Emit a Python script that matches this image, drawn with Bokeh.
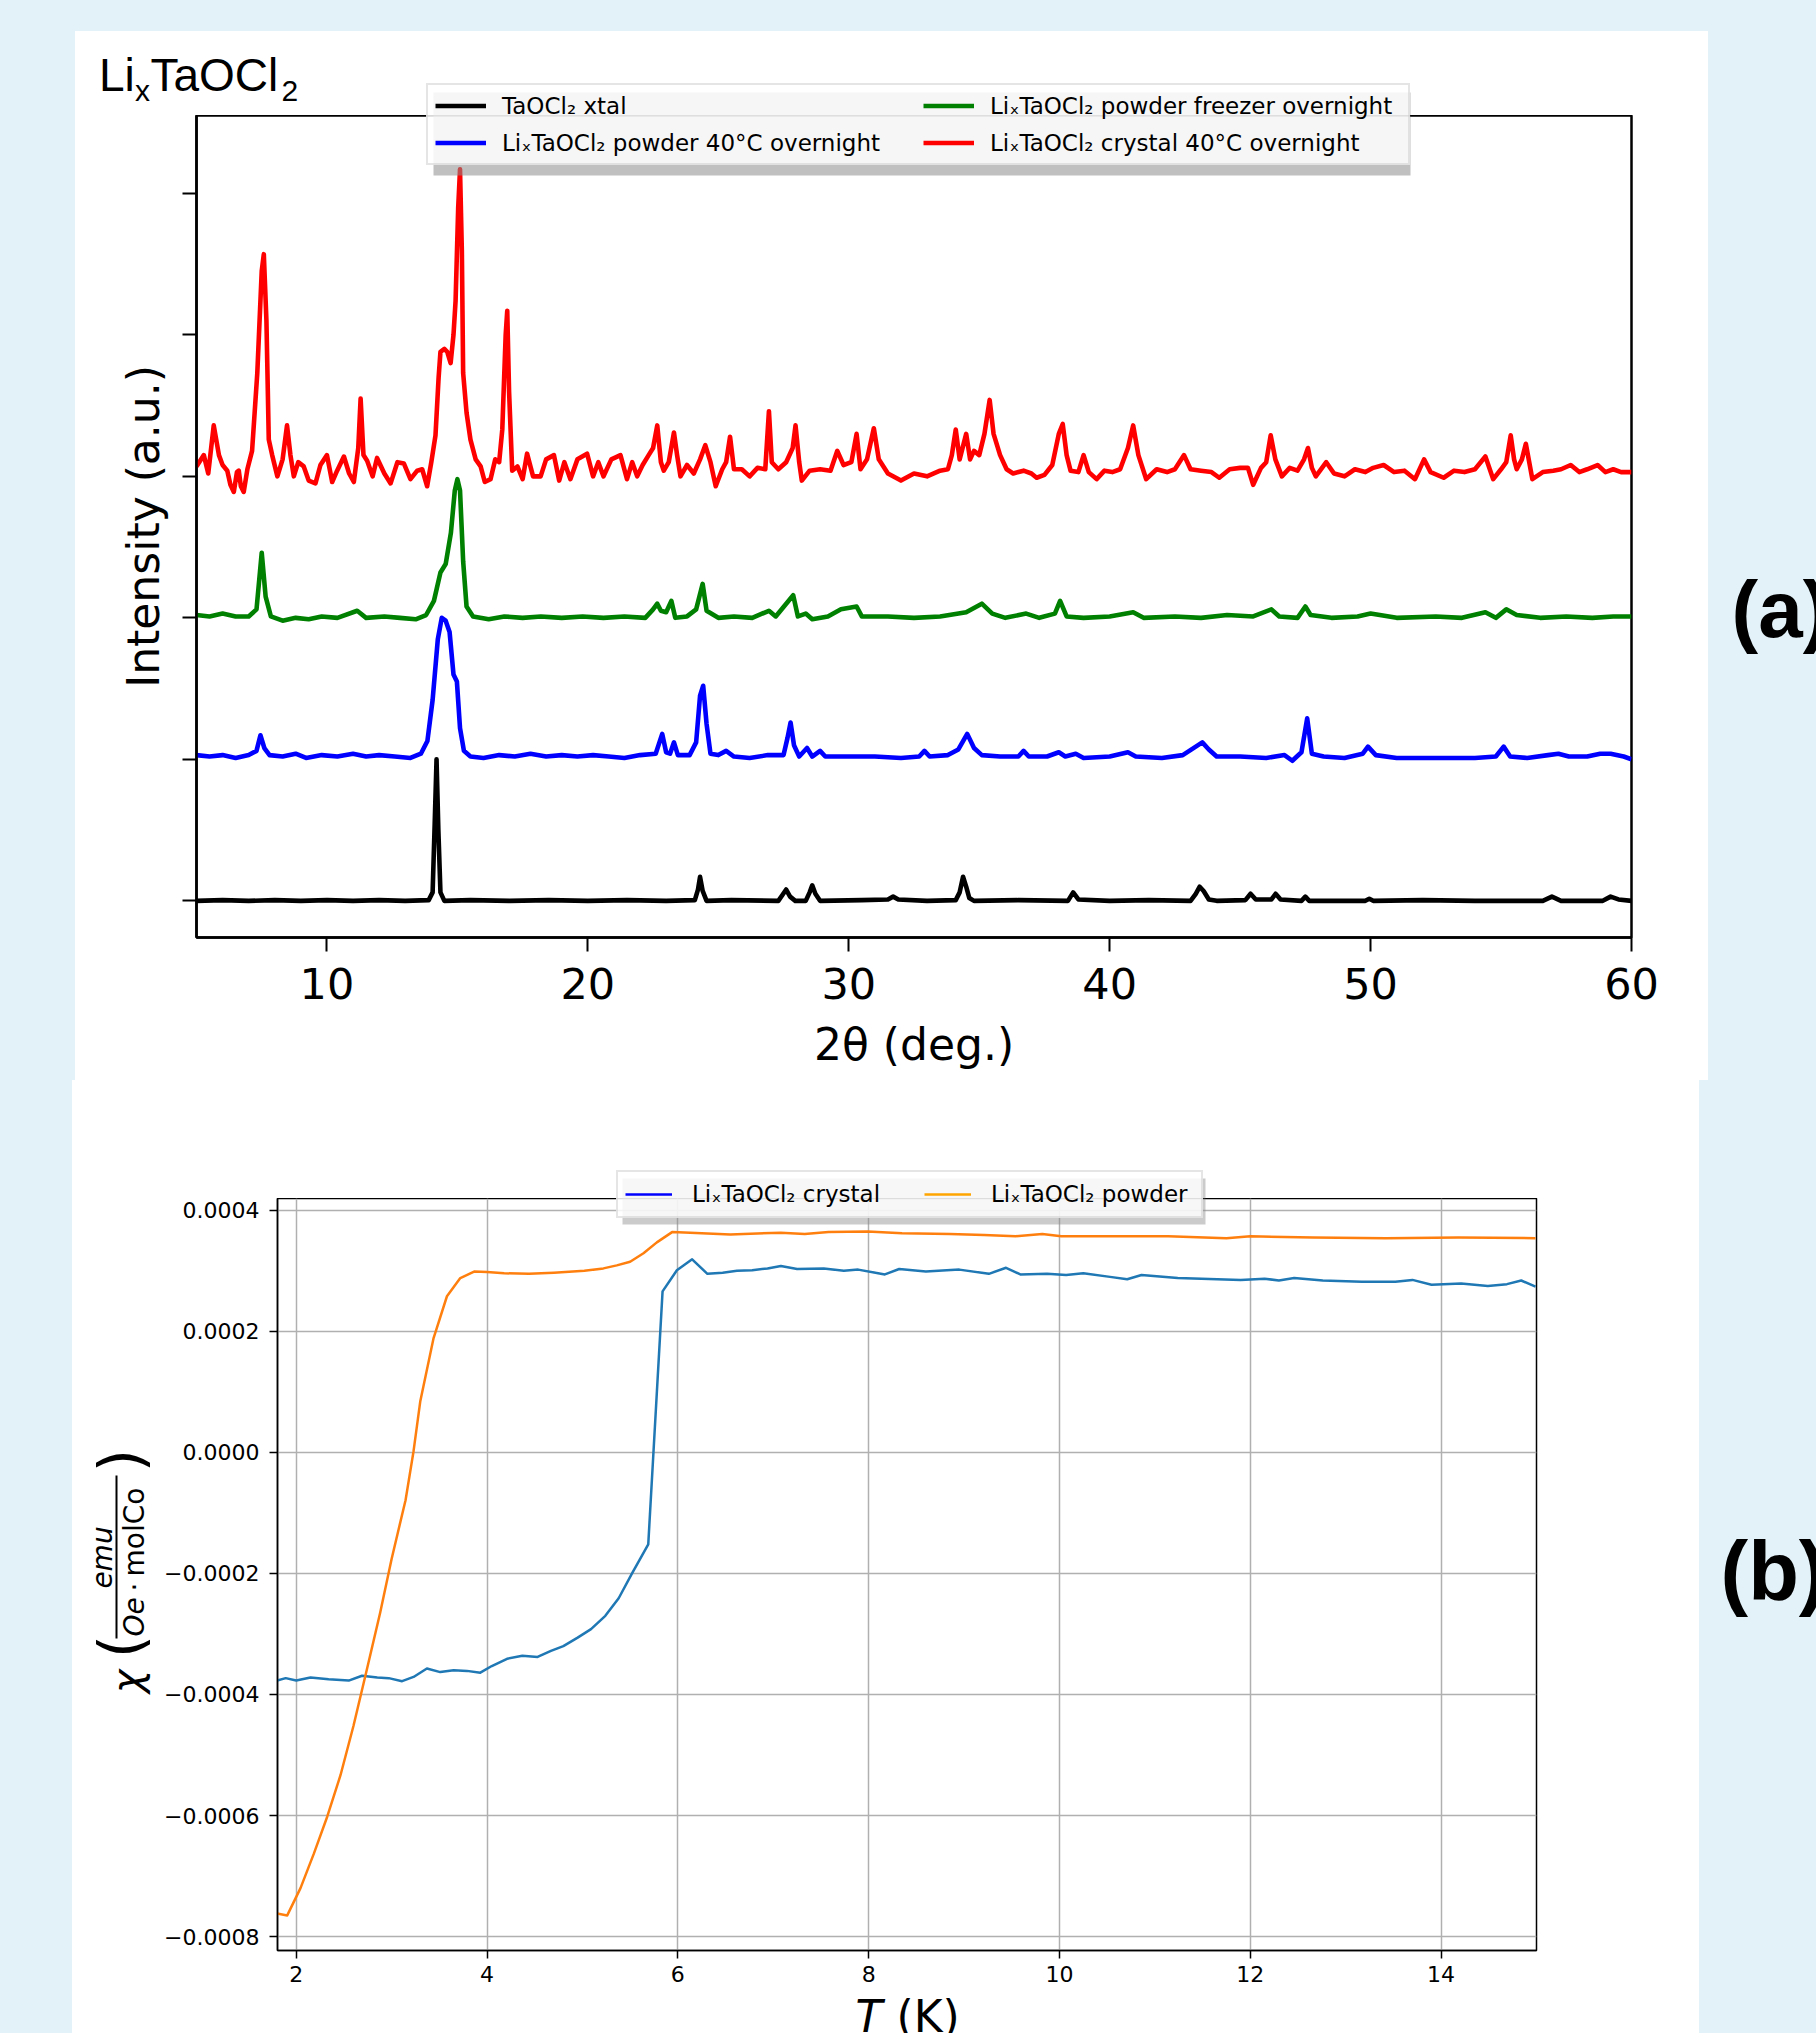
from math import pi
from bokeh.plotting import figure
from bokeh.models import (Range1d, FixedTicker, Label, Legend, LegendItem, BoxAnnotation,
                          Spacer, CustomJSTickFormatter)
from bokeh.layouts import column, row
from bokeh.embed import file_html
from bokeh.resources import INLINE

BG = "#e3f2f8"
NAN = float("nan")

# ---------------------------------------------------------------- data (a): XRD
xrd_offsets = [0.0, 1.0, 2.0, 3.0]
xrd_labels = ["TaOCl\u2082 xtal",
              "Li\u2093TaOCl\u2082 powder 40\u00b0C overnight",
              "Li\u2093TaOCl\u2082 powder freezer overnight",
              "Li\u2093TaOCl\u2082 crystal 40\u00b0C overnight"]
xrd_colors = ["black", "#0000ff", "#008000", "#ff0000"]
xrd_ticks_x = [10, 20, 30, 40, 50, 60]
xrd_ticks_y = [0, 1, 2, 3, 4, 5]

black_tt = [5.0, 6.0, 7.0, 8.0, 9.0, 10.0, 11.0, 12.0, 13.0, 13.9, 14.05, 14.13, 14.2, 14.27, 14.35,
            14.5, 15.5, 17.0, 18.5, 20.0, 21.5, 23.0, 24.1, 24.22, 24.3, 24.4, 24.55, 25.5, 27.3,
            27.45, 27.6, 27.75, 27.95, 28.35, 28.5, 28.6, 28.72, 28.9, 30.5, 31.5, 31.7, 31.9, 33.0,
            34.1, 34.25, 34.38, 34.5, 34.62, 34.8, 36.5, 38.4, 38.6, 38.8, 40.0, 41.5, 43.1, 43.3,
            43.45, 43.6, 43.8, 44.1, 45.2, 45.4, 45.6, 46.2, 46.36, 46.55, 47.35, 47.5, 47.65, 49.8,
            49.95, 50.1, 52.0, 54.0, 56.6, 56.95, 57.3, 58.9, 59.2, 59.5, 60.0]
black_i = [0.0, 0.005, 0.0, 0.005, 0.0, 0.005, 0.0, 0.005, 0.0, 0.005, 0.06, 0.55, 1.0, 0.5, 0.06,
           0.0, 0.005, 0.0, 0.005, 0.0, 0.005, 0.0, 0.005, 0.08, 0.17, 0.07, 0.0, 0.005, 0.0,
           0.04, 0.08, 0.03, 0.0, 0.0, 0.06, 0.11, 0.05, 0.0, 0.005, 0.01, 0.03, 0.01, 0.0,
           0.005, 0.06, 0.17, 0.1, 0.02, 0.0, 0.005, 0.0, 0.06, 0.01, 0.0, 0.005, 0.0, 0.05,
           0.1, 0.07, 0.01, 0.0, 0.005, 0.05, 0.01, 0.01, 0.05, 0.01, 0.0, 0.03, 0.0, 0.0,
           0.015, 0.0, 0.005, 0.0, 0.0, 0.03, 0.0, 0.0, 0.03, 0.01, 0.0]

blue_tt = [5.0, 5.5, 6.0, 6.5, 7.0, 7.3, 7.45, 7.6, 7.8, 8.3, 8.8, 9.2, 9.8, 10.4, 11.0, 11.5, 12.0,
           12.6, 13.2, 13.6, 13.85, 14.05, 14.25, 14.4, 14.55, 14.7, 14.85, 14.98, 15.1, 15.25, 15.5,
           16.0, 16.6, 17.2, 17.8, 18.4, 19.0, 19.6, 20.2, 20.8, 21.4, 22.0, 22.6, 22.85, 23.0, 23.15,
           23.3, 23.45, 23.9, 24.15, 24.3, 24.42, 24.55, 24.7, 25.0, 25.3, 25.6, 26.2, 26.9, 27.5,
           27.65, 27.77, 27.9, 28.1, 28.4, 28.6, 28.9, 29.1, 30.0, 31.0, 32.0, 32.7, 32.9, 33.1, 33.8,
           34.2, 34.54, 34.8, 35.1, 35.8, 36.5, 36.7, 36.9, 37.6, 38.05, 38.3, 38.7, 39.0, 40.0, 40.7,
           41.0, 42.0, 42.8, 43.3, 43.55, 43.8, 44.1, 45.0, 46.0, 46.7, 47.0, 47.35, 47.57, 47.75,
           48.2, 49.0, 49.7, 49.9, 50.2, 51.0, 52.0, 53.0, 54.0, 54.8, 55.1, 55.35, 56.0, 56.8, 57.2,
           57.6, 58.3, 58.8, 59.2, 59.7, 60.0]
blue_i = [0.03, 0.02, 0.03, 0.01, 0.03, 0.06, 0.17, 0.08, 0.03, 0.02, 0.04, 0.01, 0.03, 0.02, 0.04,
          0.02, 0.03, 0.02, 0.01, 0.04, 0.13, 0.42, 0.85, 1.0, 0.98, 0.9, 0.6, 0.55, 0.22, 0.06, 0.02,
          0.01, 0.03, 0.02, 0.04, 0.02, 0.03, 0.02, 0.03, 0.02, 0.01, 0.03, 0.04, 0.18, 0.05, 0.04,
          0.12, 0.03, 0.03, 0.12, 0.45, 0.52, 0.25, 0.04, 0.03, 0.06, 0.02, 0.01, 0.03, 0.03,
          0.15, 0.26, 0.1, 0.02, 0.08, 0.02, 0.06, 0.02, 0.02, 0.02, 0.01, 0.02, 0.06, 0.02, 0.03,
          0.07, 0.18, 0.08, 0.03, 0.02, 0.02, 0.06, 0.02, 0.02, 0.05, 0.02, 0.04, 0.01, 0.02, 0.05,
          0.02, 0.01, 0.03, 0.09, 0.12, 0.07, 0.02, 0.02, 0.01, 0.03, -0.01, 0.05, 0.29, 0.04,
          0.02, 0.01, 0.04, 0.09, 0.03, 0.01, 0.01, 0.01, 0.01, 0.02, 0.09, 0.02, 0.01, 0.03, 0.04,
          0.02, 0.02, 0.04, 0.04, 0.02, 0.0]

green_tt = [5.0, 5.5, 6.0, 6.5, 7.0, 7.3, 7.5, 7.65, 7.85, 8.3, 8.8, 9.3, 9.8, 10.4, 11.16, 11.5,
            12.2, 12.8, 13.4, 13.8, 14.1, 14.35, 14.55, 14.75, 14.9, 15.0, 15.1, 15.22, 15.35, 15.6,
            16.2, 16.8, 17.5, 18.2, 19.0, 19.8, 20.6, 21.4, 22.2, 22.5, 22.66, 22.8, 23.0, 23.2,
            23.35, 23.8, 24.15, 24.4, 24.55, 25.0, 25.6, 26.3, 26.94, 27.2, 27.87, 28.05, 28.35,
            28.6, 29.2, 29.7, 30.3, 30.5, 31.5, 32.5, 33.5, 34.5, 35.1, 35.5, 36.0, 36.8, 37.3, 37.9,
            38.1, 38.35, 39.0, 40.0, 40.9, 41.3, 42.5, 43.5, 44.5, 45.5, 46.2, 46.5, 47.2, 47.5, 47.7,
            48.5, 49.5, 50.0, 51.0, 52.5, 53.5, 54.4, 54.8, 55.2, 55.6, 56.5, 57.5, 58.5, 59.3, 60.0]
green_i = [0.02, 0.01, 0.03, 0.01, 0.01, 0.06, 0.46, 0.15, 0.01, -0.02, 0.0, -0.01, 0.01, 0.0, 0.05,
           0.0, 0.01, 0.0, -0.01, 0.02, 0.12, 0.32, 0.38, 0.6, 0.9, 0.98, 0.9, 0.4, 0.08, 0.01,
           -0.01, 0.01, 0.0, 0.01, 0.0, 0.01, 0.0, 0.01, 0.0, 0.06, 0.1, 0.05, 0.04, 0.12,
           0.0, 0.01, 0.06, 0.24, 0.05, 0.0, 0.01, 0.0, 0.05, 0.01, 0.16, 0.01, 0.03,
           -0.01, 0.01, 0.06, 0.08, 0.01, 0.01, 0.0, 0.01, 0.04, 0.1, 0.03, 0.0, 0.03, 0.0, 0.03,
           0.12, 0.01, 0.0, 0.01, 0.04, 0.0, 0.01, 0.0, 0.02, 0.01, 0.06, 0.01, 0.0, 0.08, 0.02,
           0.0, 0.01, 0.03, 0.0, 0.01, 0.0, 0.04, 0.0, 0.06, 0.02, 0.0, 0.01, 0.0, 0.01, 0.01]

red_tt = [5.0, 5.28, 5.45, 5.66, 5.86, 6.0, 6.18, 6.3, 6.43, 6.55, 6.62, 6.7, 6.81, 6.95, 7.13, 7.33,
          7.5, 7.58, 7.68, 7.77, 7.9, 8.1, 8.3, 8.47, 8.6, 8.73, 8.9, 9.11, 9.3, 9.56, 9.75, 10.0,
          10.2, 10.39, 10.65, 10.85, 11.03, 11.2, 11.29, 11.4, 11.54, 11.75, 11.92, 12.2, 12.44,
          12.7, 12.95, 13.2, 13.46, 13.65, 13.84, 14.0, 14.16, 14.28, 14.35, 14.5, 14.61, 14.74,
          14.85, 14.93, 15.03, 15.1, 15.17, 15.22, 15.35, 15.5, 15.7, 15.89, 16.05, 16.27, 16.45,
          16.6, 16.72, 16.85, 16.91, 16.98, 17.1, 17.3, 17.5, 17.67, 17.9, 18.19, 18.4, 18.7, 18.9,
          19.1, 19.33, 19.6, 19.97, 20.2, 20.4, 20.6, 20.9, 21.25, 21.5, 21.7, 21.89, 22.1, 22.33,
          22.5, 22.66, 22.8, 22.91, 23.1, 23.3, 23.42, 23.55, 23.8, 24.06, 24.3, 24.5, 24.7, 24.9,
          25.15, 25.3, 25.45, 25.6, 25.9, 26.2, 26.5, 26.8, 26.94, 27.05, 27.3, 27.6, 27.85, 27.96,
          28.1, 28.2, 28.5, 28.9, 29.3, 29.56, 29.8, 30.1, 30.3, 30.45, 30.7, 30.96, 31.15, 31.5,
          32.0, 32.5, 33.0, 33.5, 33.8, 33.95, 34.1, 34.25, 34.5, 34.65, 34.8, 35.0, 35.2, 35.4,
          35.55, 35.8, 36.05, 36.3, 36.7, 37.0, 37.2, 37.5, 37.8, 38.05, 38.2, 38.35, 38.5, 38.8,
          39.0, 39.2, 39.5, 39.8, 40.1, 40.4, 40.7, 40.9, 41.1, 41.4, 41.8, 42.2, 42.5, 42.85, 43.1,
          43.5, 43.9, 44.2, 44.6, 45.0, 45.3, 45.5, 45.8, 46.0, 46.17, 46.35, 46.6, 46.9, 47.2,
          47.45, 47.6, 47.75, 47.9, 48.3, 48.6, 49.0, 49.4, 49.8, 50.1, 50.5, 50.9, 51.3, 51.7,
          52.05, 52.3, 52.8, 53.2, 53.6, 54.0, 54.4, 54.7, 55.0, 55.2, 55.37, 55.5, 55.6, 55.8,
          55.95, 56.2, 56.6, 57.0, 57.3, 57.67, 58.0, 58.3, 58.7, 59.0, 59.3, 59.6, 60.0]
red_i = [0.07, 0.15, 0.02, 0.36, 0.15, 0.08, 0.04, -0.06, -0.11, 0.03, 0.04, -0.07, -0.11, 0.05, 0.18,
         0.73, 1.45, 1.57, 1.1, 0.26, 0.15, 0.0, 0.12, 0.36, 0.15, 0.0, 0.1, 0.07, -0.03, -0.05,
         0.08, 0.15, -0.04, 0.04, 0.14, 0.02, -0.04, 0.2, 0.55, 0.15, 0.11, 0.0, 0.13, 0.02, -0.05,
         0.1, 0.09, -0.02, 0.04, 0.05, -0.07, 0.1, 0.29, 0.7, 0.88, 0.9, 0.88, 0.8,
         1.0, 1.24, 1.9, 2.17, 1.6, 0.73, 0.45, 0.26, 0.12, 0.07, -0.04, -0.02, 0.12,
         0.1, 0.33, 1.0, 1.17, 0.6, 0.04, 0.07, -0.02, 0.16, 0.0, 0.0, 0.12, 0.15, -0.03,
         0.1, -0.02, 0.12, 0.16, 0.0, 0.1, 0.0, 0.12, 0.15, -0.02, 0.1, 0.0, 0.08, 0.15,
         0.2, 0.36, 0.1, 0.04, 0.1, 0.31, 0.15, 0.0, 0.08, 0.02, 0.12, 0.22, 0.1, -0.07,
         0.05, 0.1, 0.28, 0.05, 0.05, 0.0, 0.06, 0.05, 0.46, 0.1, 0.05, 0.1, 0.2, 0.36,
         0.1, -0.03, 0.04, 0.05, 0.04, 0.18, 0.08, 0.1, 0.3, 0.05, 0.12, 0.34, 0.12, 0.02,
         -0.03, 0.02, 0.0, 0.04, 0.05, 0.15, 0.33, 0.12, 0.3, 0.12, 0.18, 0.15, 0.3, 0.54,
         0.3, 0.15, 0.05, 0.02, 0.04, 0.02, -0.01, 0.01, 0.08, 0.3, 0.37, 0.15, 0.04, 0.03,
         0.15, 0.03, -0.02, 0.04, 0.03, 0.05, 0.2, 0.36, 0.15, -0.02, 0.05, 0.03, 0.05, 0.15, 0.05,
         0.04, 0.03, -0.01, 0.05, 0.06, 0.06, -0.06, 0.06, 0.1, 0.29, 0.12, 0.0, 0.06, 0.04,
         0.12, 0.2, 0.06, 0.0, 0.1, 0.02, 0.0, 0.05, 0.03, 0.06, 0.08, 0.03, 0.04, -0.02,
         0.12, 0.03, -0.01, 0.04, 0.03, 0.05, 0.14, -0.02, 0.05, 0.1, 0.29, 0.12, 0.05, 0.12,
         0.23, -0.02, 0.03, 0.04, 0.05, 0.08, 0.03, 0.05, 0.08, 0.03, 0.05, 0.03, 0.03]

# ---------------------------------------------------------------- data (b): susceptibility
sus_ticks_x = [2, 4, 6, 8, 10, 12, 14]
sus_ticks_y = [-0.0008, -0.0006, -0.0004, -0.0002, 0.0, 0.0002, 0.0004]
sus_labels = ["Li\u2093TaOCl\u2082 crystal", "Li\u2093TaOCl\u2082 powder"]

crystal_T = [1.80, 1.89, 2.0, 2.15, 2.34, 2.55, 2.69, 2.85, 2.97, 3.11, 3.23, 3.37, 3.51, 3.65, 3.79,
             3.93, 4.05, 4.21, 4.37, 4.53, 4.67, 4.8, 4.95, 5.09, 5.24, 5.38, 5.52, 5.69, 5.84, 5.99,
             6.15, 6.31, 6.47, 6.62, 6.78, 6.94, 7.08, 7.25, 7.53, 7.74, 7.89, 8.17, 8.32, 8.6, 8.95,
             9.26, 9.44, 9.59, 9.87, 10.07, 10.25, 10.53, 10.71, 10.86, 11.24, 11.9, 12.15, 12.3,
             12.46, 12.76, 13.17, 13.52, 13.7, 13.9, 14.21, 14.49, 14.69, 14.84, 14.99]
crystal_chi = [-3.77e-4, -3.73e-4, -3.77e-4, -3.72e-4, -3.75e-4, -3.77e-4, -3.69e-4, -3.72e-4,
               -3.73e-4, -3.78e-4, -3.71e-4, -3.57e-4, -3.63e-4, -3.60e-4, -3.61e-4, -3.64e-4,
               -3.53e-4, -3.41e-4, -3.36e-4, -3.38e-4, -3.28e-4, -3.20e-4, -3.06e-4, -2.92e-4,
               -2.70e-4, -2.41e-4, -2.00e-4, -1.52e-4, 2.66e-4, 3.01e-4, 3.19e-4, 2.95e-4, 2.97e-4,
               3.00e-4, 3.01e-4, 3.04e-4, 3.08e-4, 3.03e-4, 3.04e-4, 3.00e-4, 3.02e-4, 2.94e-4,
               3.03e-4, 2.99e-4, 3.02e-4, 2.95e-4, 3.05e-4, 2.94e-4, 2.95e-4, 2.93e-4, 2.96e-4,
               2.90e-4, 2.86e-4, 2.93e-4, 2.88e-4, 2.85e-4, 2.87e-4, 2.84e-4, 2.88e-4, 2.84e-4,
               2.82e-4, 2.82e-4, 2.85e-4, 2.77e-4, 2.79e-4, 2.75e-4, 2.78e-4, 2.84e-4, 2.74e-4]

powder_T = [1.80, 1.906, 2.045, 2.185, 2.325, 2.465, 2.6, 2.74, 2.88, 3.0, 3.146, 3.23, 3.3, 3.44,
            3.58, 3.72, 3.87, 4.0, 4.18, 4.44, 4.7, 5.02, 5.22, 5.36, 5.5, 5.64, 5.78, 5.94, 6.13,
            6.55, 7.08, 7.33, 7.58, 7.99, 8.35, 8.85, 9.21, 9.54, 9.82, 10.02, 10.63, 11.14, 11.75,
            12.0, 12.66, 13.42, 14.18, 14.99]
powder_chi = [-7.62e-4, -7.65e-4, -7.20e-4, -6.63e-4, -6.02e-4, -5.33e-4, -4.52e-4, -3.59e-4,
              -2.65e-4, -1.76e-4, -0.79e-4, 0.02e-4, 0.84e-4, 1.89e-4, 2.58e-4, 2.88e-4, 2.99e-4,
              2.98e-4, 2.96e-4, 2.95e-4, 2.97e-4, 3.00e-4, 3.04e-4, 3.09e-4, 3.15e-4, 3.29e-4,
              3.47e-4, 3.64e-4, 3.63e-4, 3.60e-4, 3.63e-4, 3.61e-4, 3.64e-4, 3.65e-4, 3.62e-4,
              3.61e-4, 3.59e-4, 3.57e-4, 3.61e-4, 3.57e-4, 3.57e-4, 3.57e-4, 3.54e-4, 3.57e-4,
              3.55e-4, 3.54e-4, 3.55e-4, 3.54e-4]


# ---------------------------------------------------------------- helpers
def no_align(f):
    try:
        f.frame_align = False
    except Exception:
        pass
    return f


def aux(w, h, bg):
    """Blank figure whose frame is its whole canvas; data units == pixels (y up)."""
    f = figure(width=w, height=h, title=None, output_backend="svg", toolbar_location=None,
               x_axis_location=None, y_axis_location=None, min_border=0,
               x_range=Range1d(0, w), y_range=Range1d(0, h))
    f.grid.visible = False
    f.outline_line_color = None
    f.border_fill_color = bg
    f.background_fill_color = bg
    return no_align(f)


def txt(fig, x, y, text, size, font="DejaVu Sans", style="normal", align="left",
        baseline="middle", angle=0.0, color="black"):
    fig.add_layout(Label(x=x, y=y, text=text, text_font=font, text_font_size=f"{size}px",
                         text_font_style=style, text_align=align, text_baseline=baseline,
                         angle=angle, text_color=color))


def txt_base(fig, x, y_base, text, size, **kw):
    """Place horizontal text whose alphabetic baseline is at y_base (y up)."""
    txt(fig, x, y_base + 0.33 * size, text, size, baseline="middle", **kw)


def make_legend(items, **kw):
    return Legend(items=items, label_text_font="DejaVu Sans", label_text_font_size="23px",
                  label_text_color="black", margin=0, border_line_color="#cccccc",
                  border_line_width=2, background_fill_color="white",
                  background_fill_alpha=0.85, **kw)


def shadow(fig, l, r, b, t, alpha, screen):
    kw = dict(left_units="screen", right_units="screen", bottom_units="screen",
              top_units="screen") if screen else {}
    fig.add_layout(BoxAnnotation(left=l, right=r, bottom=b, top=t, fill_color="#8c8c8c",
                                 fill_alpha=alpha, line_color=None, **kw))


# ================================================================ panel (a)
# page geometry: white panel x 75..1708, y 31..1080 ; frame x 196..1631, y 115..937
strip_a = aux(1633, 84, "white")                      # page y 31..115
fa = no_align(figure(width=1633, height=965, title=None, output_backend="svg",
                     toolbar_location=None, x_range=Range1d(5, 60), y_range=Range1d(-0.259, 5.55),
                     min_border_left=121, min_border_right=77, min_border_top=0,
                     min_border_bottom=143))
fa.border_fill_color = "white"
fa.background_fill_color = "white"
fa.outline_line_color = "black"
fa.outline_line_width = 2.5
fa.grid.visible = False
fa.xaxis.ticker = FixedTicker(ticks=xrd_ticks_x)
fa.yaxis.ticker = FixedTicker(ticks=xrd_ticks_y)
for ax in (fa.xaxis[0], fa.yaxis[0]):
    ax.major_tick_out = 14
    ax.major_tick_in = 0
    ax.minor_tick_out = 0
    ax.minor_tick_in = 0
    ax.major_tick_line_width = 2
    ax.axis_line_width = 2.5
    ax.major_label_text_font = "DejaVu Sans"
    ax.major_label_text_color = "black"
    ax.axis_label_text_font = "DejaVu Sans"
    ax.axis_label_text_font_size = "44px"
    ax.axis_label_text_font_style = "normal"
    ax.axis_label_text_color = "black"
fa.xaxis.major_label_text_font_size = "43px"
fa.xaxis.major_label_standoff = 16
fa.yaxis.major_label_overrides = {t: "" for t in xrd_ticks_y}
fa.yaxis.major_label_standoff = 0
fa.xaxis.axis_label = "2\u03b8 (deg.)"
fa.xaxis.axis_label_standoff = 17
fa.yaxis.axis_label = "Intensity (a.u.)"
fa.yaxis.axis_label_standoff = 14

series = [(black_tt, black_i), (blue_tt, blue_i), (green_tt, green_i), (red_tt, red_i)]
rends = []
for (tt, ii), off, col in zip(series, xrd_offsets, xrd_colors):
    rends.append(fa.line(tt, [v + off for v in ii], line_color=col, line_width=4.6,
                         line_join="round"))

# legend: drawn in the frame and, for the part above the frame, again in the strip
leg_kw_a = dict(ncols=2, glyph_width=51, glyph_height=27, label_height=27, label_width=411,
                label_standoff=16, spacing=10, padding=7)
shadow(fa, 237, 1214, 762, 845, 0.55, True)
fa.add_layout(make_legend([LegendItem(label=l, renderers=[r]) for l, r in zip(xrd_labels, rends)],
                          location=(230, 772), **leg_kw_a))
proxies_a = [strip_a.line([NAN, NAN], [NAN, NAN], line_color=c, line_width=4.6) for c in xrd_colors]
shadow(strip_a, 358, 1335, -60, 23, 0.55, False)
strip_a.add_layout(make_legend([LegendItem(label=l, renderers=[r])
                                for l, r in zip(xrd_labels, proxies_a)],
                               location=(351, -50), **leg_kw_a))
# title  Li_x TaOCl_2  (page baseline 89.3 -> strip y 25.7 ; subscripts baseline page 100)
txt_base(strip_a, 23.5, 25.7, "Li", 46, font="Liberation Sans")
txt_base(strip_a, 59.5, 15, "x", 30, font="Liberation Sans")
txt_base(strip_a, 75, 25.7, "TaOCl", 46, font="Liberation Sans")
txt_base(strip_a, 206, 15, "2", 30, font="Liberation Sans")

la = aux(108, 1049, BG)                                 # page x 1708..1816, y 31..1080
txt_base(la, 23, 445, "(a)", 80, font="Liberation Sans", style="bold")

# ================================================================ panel (b)
# page geometry: white panel x 72..1699, y 1080..2033 ; frame x 277..1536, y 1198..1950
strip_b = aux(1627, 118, "white")                     # page y 1080..1198
ylab_b = aux(88, 794, "white")                        # page x 72..160, y 1198..1992
xlab_b = aux(1627, 41, "white")                       # page y 1992..2033
fb = no_align(figure(width=1539, height=794, title=None, output_backend="svg",
                     toolbar_location=None, x_range=Range1d(1.804, 15.0),
                     y_range=Range1d(-0.000823, 0.0004195),
                     min_border_left=117, min_border_right=163, min_border_top=0,
                     min_border_bottom=42))
fb.border_fill_color = "white"
fb.background_fill_color = "white"
fb.outline_line_color = "black"
fb.outline_line_width = 1.5
fb.xaxis.ticker = FixedTicker(ticks=sus_ticks_x)
fb.yaxis.ticker = FixedTicker(ticks=sus_ticks_y)
fb.xgrid.ticker = FixedTicker(ticks=sus_ticks_x)
fb.ygrid.ticker = FixedTicker(ticks=sus_ticks_y)
fb.grid.grid_line_color = "#b0b0b0"
fb.grid.grid_line_width = 1.5
fb.yaxis.formatter = CustomJSTickFormatter(
    code="return (tick < -1e-12 ? '\\u2212' : '') + Math.abs(tick).toFixed(4);")
for ax in (fb.xaxis[0], fb.yaxis[0]):
    ax.major_tick_out = 8
    ax.major_tick_in = 0
    ax.minor_tick_out = 0
    ax.minor_tick_in = 0
    ax.major_tick_line_width = 1.5
    ax.axis_line_width = 1.5
    ax.major_label_text_font = "DejaVu Sans"
    ax.major_label_text_font_size = "22px"
    ax.major_label_text_color = "black"
fb.yaxis.major_label_standoff = 10
fb.xaxis.major_label_standoff = 7

fb.line(crystal_T, crystal_chi, line_color="#1f77b4", line_width=2.5, line_join="round")
fb.line(powder_T, powder_chi, line_color="#ff7f0e", line_width=2.5, line_join="round")
sus_legend_colors = ["#0000ff", "#ffa500"]
proxies_b = [fb.line([NAN, NAN], [NAN, NAN], line_color=c, line_width=2.5) for c in sus_legend_colors]
proxies_bs = [strip_b.line([NAN, NAN], [NAN, NAN], line_color=c, line_width=2.5)
              for c in sus_legend_colors]

leg_kw_b = dict(orientation="horizontal", glyph_width=47, glyph_height=30, label_height=30,
                label_width=203, label_standoff=20, spacing=29, padding=7)
shadow(fb, 345, 928, 726, 772, 0.45, True)
fb.add_layout(make_legend([LegendItem(label=l, renderers=[r]) for l, r in zip(sus_labels, proxies_b)],
                          location=(339, 732), **leg_kw_b))
shadow(strip_b, 550, 1133, -26, 20, 0.45, False)
strip_b.add_layout(make_legend([LegendItem(label=l, renderers=[r])
                                for l, r in zip(sus_labels, proxies_bs)],
                               location=(544, -20), **leg_kw_b))

# y label: chi ( emu / Oe . molCo )   (ylab_b: x = page-72, y = 1992-page)
txt(ylab_b, 54, 311, "\u03c7", 40, style="italic", align="center", angle=pi / 2)
txt(ylab_b, 48, 346, "(", 60, align="center", angle=pi / 2)
txt(ylab_b, 30, 435, "emu", 28, style="italic", align="center", angle=pi / 2)
ylab_b.add_layout(BoxAnnotation(left=43, right=45, bottom=354, top=517,
                                fill_color="black", fill_alpha=1.0, line_color=None))
txt(ylab_b, 62, 356, "Oe", 28, style="italic", align="left", angle=pi / 2)
txt(ylab_b, 62, 401, "\u00b7", 28, align="left", angle=pi / 2)
txt(ylab_b, 62, 416, "molCo", 28, align="left", angle=pi / 2)
txt(ylab_b, 48, 532, ")", 60, align="center", angle=pi / 2)
# x label  T (K)  (xlab_b: x = page-72, y = 2033-page ; baseline page 2031)
txt_base(xlab_b, 783, 2, "T", 44, style="italic")
txt_base(xlab_b, 824, 2, "(K)", 44)

lb = aux(117, 953, BG)                                  # page x 1699..1816, y 1080..2033
txt_base(lb, 21, 435, "(b)", 83, font="Liberation Sans", style="bold")

col_a = column(strip_a, fa, styles={"background-color": "white"})
col_b = column(strip_b, row(ylab_b, fb, styles={"background-color": "white"}), xlab_b,
               styles={"background-color": "white"})
root = column(Spacer(width=1816, height=31),
              row(Spacer(width=75, height=1049), col_a, la),
              row(Spacer(width=72, height=953), col_b, lb),
              styles={"background-color": BG})
p = root
open("out.html", "w").write(file_html(p, INLINE))
